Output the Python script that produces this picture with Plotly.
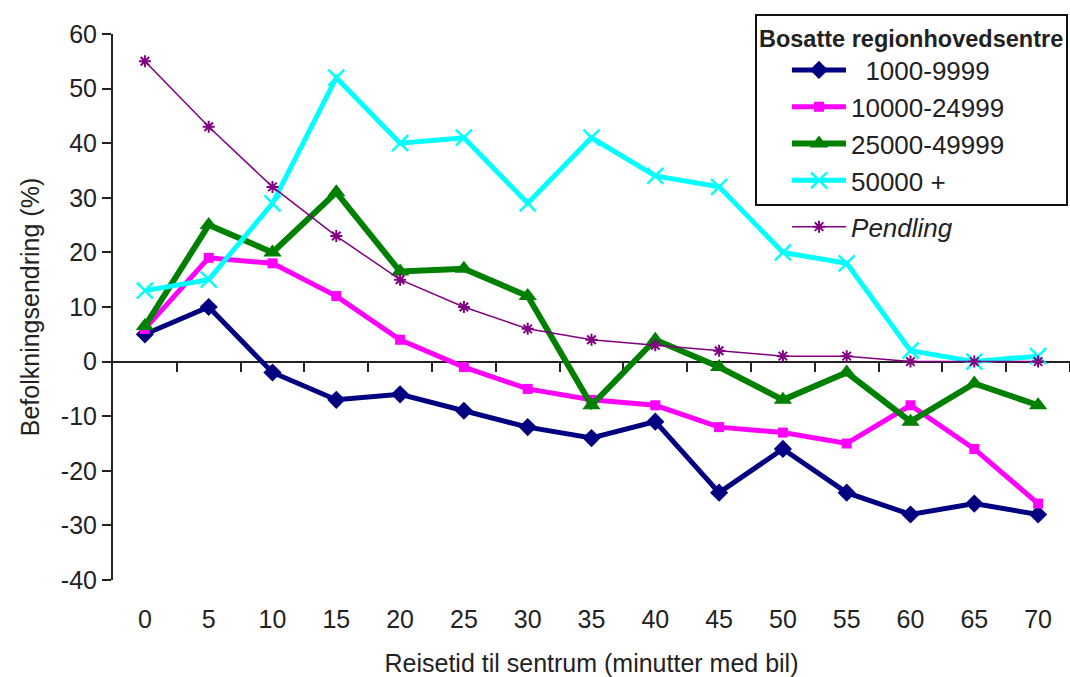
import plotly.graph_objects as go

minutes = [0, 5, 10, 15, 20, 25, 30, 35, 40, 45, 50, 55, 60, 65, 70]
tick_labels = [str(m) for m in minutes]
zero_ticks = [2.5, 7.5, 12.5, 17.5, 22.5, 27.5, 32.5, 37.5, 42.5, 47.5, 52.5, 57.5, 62.5, 67.5, 72.5]
y_ticks = [-40, -30, -20, -10, 0, 10, 20, 30, 40, 50, 60]
y_tick_labels = ["-40", "-30", "-20", "-10", "0", "10", "20", "30", "40", "50", "60"]

s_1000_9999 = [5, 10, -2, -7, -6, -9, -12, -14, -11, -24, -16, -24, -28, -26, -28]
s_10000_24999 = [6, 19, 18, 12, 4, -1, -5, -7, -8, -12, -13, -15, -8, -16, -26]
s_25000_49999 = [6.5, 25, 20, 31, 16.5, 17, 12, -8, 4, -1, -7, -2, -11, -4, -8]
s_50000 = [13, 15, 29, 52, 40, 41, 29, 41, 34, 32, 20, 18, 2, 0, 1]
pendling = [55, 43, 32, 23, 15, 10, 6, 4, 3, 2, 1, 1, 0, 0, 0]

FONT = "Liberation Sans, Arial, sans-serif"

fig = go.Figure()

fig.add_trace(go.Scatter(
    x=minutes, y=s_1000_9999, name="  1000-9999", mode="lines+markers",
    line=dict(color="#000080", width=5),
    marker=dict(symbol="diamond", size=14, color="#000080"),
    legend="legend"))
fig.add_trace(go.Scatter(
    x=minutes, y=s_10000_24999, name="10000-24999", mode="lines+markers",
    line=dict(color="#FF00FF", width=5),
    marker=dict(symbol="square", size=10, color="#FF00FF"),
    legend="legend"))
fig.add_trace(go.Scatter(
    x=minutes, y=s_25000_49999, name="25000-49999", mode="lines+markers",
    line=dict(color="#008000", width=6),
    marker=dict(symbol="triangle-up", size=16, color="#008000"),
    legend="legend"))
fig.add_trace(go.Scatter(
    x=minutes, y=s_50000, name="50000 +", mode="lines+markers",
    line=dict(color="#00FFFF", width=5),
    marker=dict(symbol="x-thin-open", size=16, color="#00FFFF",
                line=dict(color="#00FFFF", width=2.5)),
    legend="legend"))
fig.add_trace(go.Scatter(
    x=minutes, y=pendling, name="<i>Pendling</i>", mode="lines+markers",
    line=dict(color="#800080", width=1.5),
    marker=dict(symbol="asterisk-open", size=10, color="#800080",
                line=dict(color="#800080", width=2)),
    legend="legend2"))
# empty trace to create the zero-line axis
fig.add_trace(go.Scatter(x=[], y=[], xaxis="x2", showlegend=False, hoverinfo="skip"))

fig.update_layout(
    width=1070, height=677,
    margin=dict(l=113, r=0, t=34, b=97, autoexpand=False),
    paper_bgcolor="white", plot_bgcolor="white",
    font=dict(family=FONT, size=25, color="#222222"),
    xaxis=dict(
        range=[-2.5, 72.5], tickvals=minutes, ticktext=tick_labels,
        showline=False, showgrid=False, zeroline=False, automargin=False,
        ticks="outside", ticklen=17, tickcolor="rgba(0,0,0,0)",
        tickfont=dict(size=25),
        title=dict(text="Reisetid til sentrum (minutter med bil)",
                   font=dict(size=25), standoff=22),
    ),
    xaxis2=dict(
        overlaying="x", anchor="free", position=0.4, side="bottom",
        range=[-2.5, 72.5], tickvals=zero_ticks, showticklabels=False,
        showline=True, linecolor="#222222", linewidth=2, automargin=False,
        ticks="outside", ticklen=9, tickwidth=2, tickcolor="#222222",
        showgrid=False, zeroline=False, layer="below traces",
    ),
    yaxis=dict(
        range=[-40, 60], tickvals=y_ticks, ticktext=y_tick_labels,
        showline=True, linecolor="#222222", linewidth=2, automargin=False,
        ticks="outside", ticklen=9, tickwidth=2, tickcolor="#222222",
        showgrid=False, zeroline=False,
        tickfont=dict(size=25),
        title=dict(text="Befolkningsendring (%)", font=dict(size=25), standoff=14),
    ),
    legend=dict(
        x=0.6708, y=1.0366, xanchor="left", yanchor="top",
        bordercolor="#111111", borderwidth=2, bgcolor="white",
        font=dict(size=26, family=FONT, color="#222222"),
        title=dict(text="<b>Bosatte regionhovedsentre</b>",
                   font=dict(size=23.5, family=FONT, color="#222222")),
        tracegroupgap=0, indentation=30, itemwidth=54,
    ),
    legend2=dict(
        x=0.673, y=0.690, xanchor="left", yanchor="top",
        borderwidth=0, bgcolor="rgba(0,0,0,0)",
        font=dict(size=26, family=FONT, color="#222222"),
        indentation=30, itemwidth=54,
    ),
)

fig.write_html("out.html", config={"displayModeBar": False},
               post_script="document.body.style.margin='0';")
